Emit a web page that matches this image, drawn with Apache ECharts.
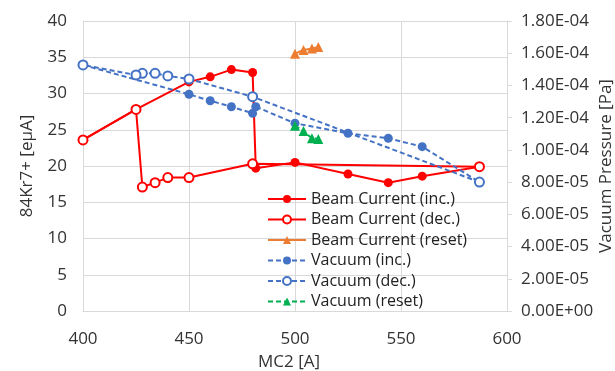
<!DOCTYPE html>
<html>
<head>
<meta charset="utf-8">
<script src="https://cdn.jsdelivr.net/npm/echarts@6/dist/echarts.min.js"></script>
<style>
    html, body { margin: 0; padding: 0; background: #fff; }
    #chart { width: 615px; height: 371px; }
</style>
</head>
<body>
<div id="chart"></div>
<script>
// MC2 [A] 各系列のX値
var incX = [400, 425, 450, 460, 470, 480, 481.5, 500, 525, 544, 560, 587];
var decX = [587, 480, 450, 440, 434, 428, 425, 400];
var resetX = [500, 504, 508, 511];
var vacIncX = [400, 450, 460, 470, 480, 481.5, 500, 525, 544, 560, 587];

// ビーム電流 [eμA]
var beamInc = [23.6, 27.8, 31.6, 32.3, 33.3, 32.9, 19.7, 20.5, 18.9, 17.7, 18.6, 19.9];
var beamDec = [19.9, 20.3, 18.4, 18.4, 17.7, 17.1, 27.8, 23.6];
var beamReset = [35.5, 36.0, 36.2, 36.4];

// 真空度 [Pa]
var vacInc = [1.527e-4, 1.345e-4, 1.305e-4, 1.268e-4, 1.227e-4, 1.268e-4, 1.165e-4, 1.103e-4, 1.072e-4, 1.02e-4, 8.0e-5];
var vacDec = [8.0e-5, 1.33e-4, 1.44e-4, 1.459e-4, 1.475e-4, 1.475e-4, 1.465e-4, 1.527e-4];
var vacReset = [1.15e-4, 1.117e-4, 1.072e-4, 1.068e-4];

var FONT = 'Open Sans';
var TXT = '#333';
var GRID = '#d9d9d9';

function pairs(xs, ys) {
    return xs.map(function (x, i) { return [x, ys[i]]; });
}

function sciLabel(v) {
    if (Math.abs(v) < 1e-12) return '0.00E+00';
    var e = Math.floor(Math.log10(Math.abs(v)) + 1e-9);
    var m = v / Math.pow(10, e);
    var s = e < 0 ? '-' : '+';
    var a = Math.abs(e);
    return m.toFixed(2) + 'E' + s + (a < 10 ? '0' + a : a);
}

var myChart = echarts.init(document.getElementById('chart'));

var option = {
    animation: false,
    textStyle: { fontFamily: FONT },
    grid: { left: 83, right: 108, top: 21, bottom: 60, outerBoundsMode: 'none' },
    legend: {
        orient: 'vertical',
        left: 262,
        top: 186,
        itemWidth: 38,
        itemHeight: 10,
        itemGap: 4.5,
        textStyle: { fontFamily: FONT, fontSize: 16, color: '#222' },
        data: ['Beam Current (inc.)', 'Beam Current (dec.)', 'Beam Current (reset)',
            'Vacuum (inc.)', 'Vacuum (dec.)', 'Vacuum (reset)']
    },
    xAxis: {
        type: 'value',
        min: 400,
        max: 600,
        interval: 50,
        name: 'MC2 [A]',
        nameLocation: 'middle',
        nameGap: 43,
        nameTextStyle: { fontFamily: FONT, fontSize: 17, color: TXT, padding: [0, 12, 0, 0] },
        axisLine: { show: true, lineStyle: { color: GRID, width: 1 } },
        axisTick: { show: false },
        axisLabel: { fontFamily: FONT, fontSize: 17, color: TXT, margin: 20 },
        splitLine: { show: true, lineStyle: { color: GRID, width: 1 } }
    },
    yAxis: [
        {
            type: 'value',
            position: 'left',
            min: 0,
            max: 40,
            interval: 5,
            name: '84Kr7+ [eμA]',
            nameLocation: 'middle',
            nameGap: 47,
            nameTextStyle: { fontFamily: FONT, fontSize: 17, color: TXT },
            axisLine: { show: true, lineStyle: { color: GRID, width: 1 } },
            axisTick: { show: false },
            axisLabel: { fontFamily: FONT, fontSize: 17, color: TXT, margin: 16 },
            splitLine: { show: true, lineStyle: { color: GRID, width: 1 } }
        },
        {
            type: 'value',
            position: 'right',
            min: 0,
            max: 1.8e-4,
            interval: 2e-5,
            name: 'Vacuum Pressure [Pa]',
            nameLocation: 'middle',
            nameGap: 91,
            nameRotate: 90,
            nameMoveOverlap: false,
            nameTextStyle: { fontFamily: FONT, fontSize: 17, color: TXT },
            axisLine: { show: true, lineStyle: { color: GRID, width: 1 } },
            axisTick: { show: true, inside: false, length: 5, lineStyle: { color: GRID } },
            axisLabel: {
                fontFamily: FONT, fontSize: 17, color: TXT, margin: 14,
                formatter: sciLabel
            },
            splitLine: { show: false }
        }
    ],
    series: [
        {
            name: 'Beam Current (inc.)',
            type: 'line',
            yAxisIndex: 0,
            data: pairs(incX, beamInc),
            symbol: 'circle',
            symbolSize: 9,
            itemStyle: { color: '#ff0000' },
            lineStyle: { color: '#ff0000', width: 2 }
        },
        {
            name: 'Beam Current (dec.)',
            type: 'line',
            yAxisIndex: 0,
            data: pairs(decX, beamDec),
            symbol: 'emptyCircle',
            symbolSize: 9,
            itemStyle: { color: '#ff0000', borderColor: '#ff0000', borderWidth: 2 },
            lineStyle: { color: '#ff0000', width: 2 }
        },
        {
            name: 'Beam Current (reset)',
            type: 'line',
            yAxisIndex: 0,
            data: pairs(resetX, beamReset),
            symbol: 'triangle',
            symbolSize: 10,
            itemStyle: { color: '#ed7d31' },
            lineStyle: { color: '#ed7d31', width: 2 }
        },
        {
            name: 'Vacuum (inc.)',
            type: 'line',
            yAxisIndex: 1,
            data: pairs(vacIncX, vacInc),
            symbol: 'circle',
            symbolSize: 9,
            itemStyle: { color: '#4472c4' },
            lineStyle: { color: '#4472c4', width: 2, type: [5, 3] }
        },
        {
            name: 'Vacuum (dec.)',
            type: 'line',
            yAxisIndex: 1,
            data: pairs(decX, vacDec),
            symbol: 'emptyCircle',
            symbolSize: 9,
            itemStyle: { color: '#4472c4', borderColor: '#4472c4', borderWidth: 2 },
            lineStyle: { color: '#4472c4', width: 2, type: [5, 3] }
        },
        {
            name: 'Vacuum (reset)',
            type: 'line',
            yAxisIndex: 1,
            data: pairs(resetX, vacReset),
            symbol: 'triangle',
            symbolSize: 10,
            itemStyle: { color: '#00b050' },
            lineStyle: { color: '#00b050', width: 2, type: [5, 3] }
        }
    ]
};

myChart.setOption(option);
</script>
</body>
</html>
